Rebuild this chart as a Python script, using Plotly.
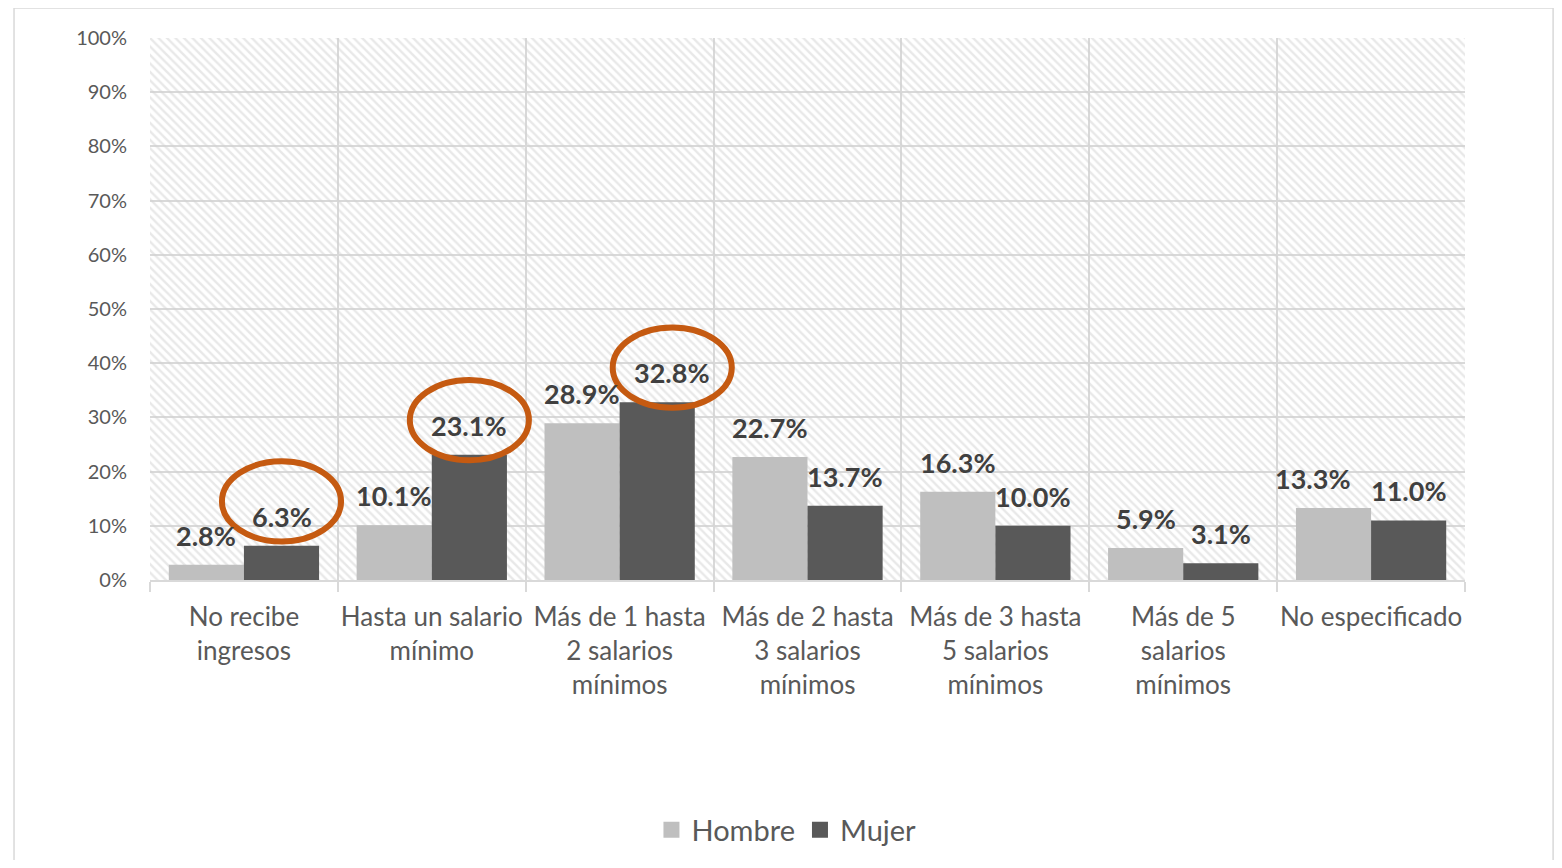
import plotly.graph_objects as go

categories = [
    "No recibe<br>ingresos",
    "Hasta un salario<br>mínimo",
    "Más de 1 hasta<br>2 salarios<br>mínimos",
    "Más de 2 hasta<br>3 salarios<br>mínimos",
    "Más de 3 hasta<br>5 salarios<br>mínimos",
    "Más de 5<br>salarios<br>mínimos",
    "No especificado",
]
hombre = [2.8, 10.1, 28.9, 22.7, 16.3, 5.9, 13.3]
mujer = [6.3, 23.1, 32.8, 13.7, 10.0, 3.1, 11.0]
highlighted = [0, 1, 2]  # Mujer values circled in orange
y_ticks = list(range(0, 101, 10))
y_tick_labels = [f"{v}%" for v in y_ticks]

# small horizontal nudges of data labels (category units), as in the original
hombre_label_dx = [0, 0, 0, 0, 0, 0, -0.11]
mujer_label_dx = [0, 0, 0.08, 0, 0, 0, 0]
ellipse_dy = [8.2, 6.4, 6.4]  # ellipse centre above the bar top (in %)

FONT = "Lato, Carlito, Calibri, 'Noto Sans', sans-serif"
GRID = "#d9d9d9"
TXT = "#595959"
COLORS = {"Hombre": "#BFBFBF", "Mujer": "#595959"}

fig = go.Figure()
n = len(categories)

# hatched plot background (main numeric axis spanning the categories)
fig.add_trace(go.Bar(
    x=[n / 2], y=[y_ticks[-1]], width=[n], xaxis="x", yaxis="y",
    marker=dict(color="rgba(0,0,0,0)", line=dict(width=0),
                pattern=dict(shape="\\", fgcolor="#d2d2d2", bgcolor="rgba(0,0,0,0)",
                             size=6, solidity=0.4)),
    showlegend=False, hoverinfo="skip",
))

for name, vals in [("Hombre", hombre), ("Mujer", mujer)]:
    fig.add_trace(go.Bar(
        name=name, x=categories, y=vals, xaxis="x2", yaxis="y",
        marker=dict(color=COLORS[name], line=dict(width=0)),
        showlegend=False, hoverinfo="y",
    ))
# legend entries with larger square keys
for name in ["Hombre", "Mujer"]:
    fig.add_trace(go.Scatter(
        name=name, x=[None], y=[None], mode="markers", xaxis="x", yaxis="y",
        marker=dict(symbol="square", size=18, color=COLORS[name]),
    ))

annotations = []
label_font = dict(family=FONT, size=27, color="#404040", weight="bold")
for i in range(n):
    for vals, off, dx in [(hombre, 0.3, hombre_label_dx), (mujer, 0.7, mujer_label_dx)]:
        annotations.append(dict(
            x=i + off + dx[i], y=vals[i], xref="x", yref="y",
            text=f"{vals[i]:.1f}%", showarrow=False, font=label_font,
            xanchor="center", yanchor="middle", yshift=29.5,
        ))

shapes = []
for k, i in enumerate(highlighted):
    c = i + 0.7 + mujer_label_dx[i]
    yc = mujer[i] + ellipse_dy[k]
    shapes.append(dict(type="circle", xref="x", yref="y",
                       x0=c - 0.317, x1=c + 0.317, y0=yc - 7.4, y1=yc + 7.4,
                       line=dict(color="#C55A11", width=6), layer="above"))
# outer chart border
shapes.append(dict(type="rect", xref="paper", yref="paper",
                   x0=-0.1034, x1=1.067, y0=-0.6, y1=1.0554,
                   line=dict(color="#d9d9d9", width=1.5), layer="below"))

fig.update_layout(
    width=1546, height=852,
    margin=dict(l=142, r=89, t=30, b=280, autoexpand=False),
    paper_bgcolor="white", plot_bgcolor="white",
    font=dict(family=FONT, color=TXT),
    barmode="group", bargap=0.2, bargroupgap=0,
    xaxis=dict(range=[0, n], tick0=0, dtick=1, showgrid=True, gridcolor=GRID,
               gridwidth=1.5, showticklabels=False, ticks="outside", ticklen=10,
               tickcolor=GRID, tickwidth=1.5, showline=True, linecolor=GRID,
               linewidth=1.5, zeroline=False, fixedrange=True, automargin=False),
    xaxis2=dict(overlaying="x", range=[-0.5, n - 0.5], showgrid=False, side="bottom",
                tickfont=dict(size=26, color=TXT, family=FONT), ticks="",
                ticklabelstandoff=19, showline=False, zeroline=False, automargin=False),
    yaxis=dict(range=[0, 100], tickvals=y_ticks, ticktext=y_tick_labels, showgrid=True,
               gridcolor=GRID, gridwidth=1.5, zeroline=False,
               tickfont=dict(size=20, color=TXT, family=FONT), ticks="",
               ticklabelstandoff=22, automargin=False),
    legend=dict(orientation="h", x=0.484, xanchor="center", y=-0.461, yanchor="middle",
                font=dict(size=29, color=TXT, family=FONT), traceorder="normal",
                itemwidth=30),
    annotations=annotations,
    shapes=shapes,
)

fig.write_html("out.html")
